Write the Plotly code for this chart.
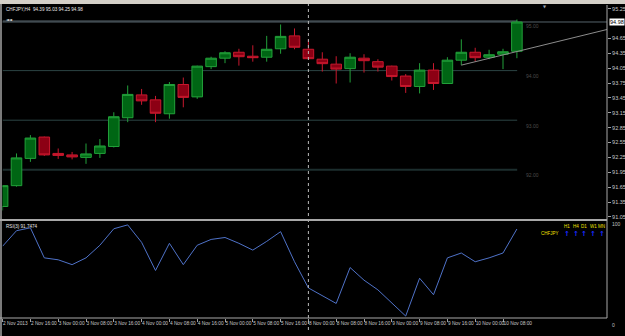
import plotly.graph_objects as go

W, H = 625, 336

# ---------------- data ----------------
opens = [91.26, 91.68, 92.23, 92.66, 92.33, 92.30, 92.25, 92.33, 92.47, 93.05,
         93.51, 93.41, 93.13, 93.72, 93.47, 94.08, 94.25, 94.37, 94.29, 94.27,
         94.44, 94.70, 94.43, 94.23, 94.13, 94.04, 94.25, 94.18, 94.09, 93.89,
         93.68, 94.01, 93.74, 94.21, 94.37, 94.27, 94.33, 94.39]
highs = [91.68, 92.33, 92.70, 92.67, 92.43, 92.36, 92.53, 92.62, 93.16, 93.70,
         93.63, 93.49, 93.77, 93.86, 94.10, 94.28, 94.39, 94.44, 94.51, 94.70,
         94.93, 94.85, 94.62, 94.37, 94.29, 94.35, 94.33, 94.23, 94.10, 93.93,
         94.15, 94.15, 94.27, 94.63, 94.46, 94.42, 94.44, 95.03]
lows = [91.18, 91.66, 92.16, 92.28, 92.22, 92.21, 92.12, 92.24, 92.45, 92.96,
        93.31, 92.96, 93.03, 93.26, 93.43, 94.03, 94.15, 94.10, 94.18, 94.18,
        94.34, 94.43, 94.23, 93.98, 93.74, 93.76, 93.96, 93.98, 93.80, 93.55,
        93.54, 93.61, 93.73, 94.11, 94.18, 94.23, 94.03, 94.25]
closes = [91.68, 92.24, 92.64, 92.30, 92.29, 92.26, 92.32, 92.48, 93.07, 93.52,
          93.39, 93.14, 93.72, 93.46, 94.09, 94.25, 94.36, 94.28, 94.26, 94.43,
          94.69, 94.47, 94.24, 94.14, 94.03, 94.27, 94.20, 94.07, 93.88, 93.68,
          94.01, 93.74, 94.21, 94.37, 94.26, 94.32, 94.38, 94.98]
rsi = [74, 90, 93, 62, 60, 55, 62, 75, 92, 96,
       78, 49, 77, 55, 75, 81, 83, 77, 70, 79,
       89, 58, 31, 23, 15, 52, 39, 29, 15, 2,
       41, 24, 62, 67, 58, 62, 67, 91.7474]
bars = list(range(len(closes)))

date_tick_bars = list(range(0, 38, 2))
date_tick_labels = ["2 Nov 2013", "2 Nov 16:00", "3 Nov 00:00", "3 Nov 08:00", "3 Nov 16:00",
                    "4 Nov 00:00", "4 Nov 08:00", "4 Nov 16:00", "5 Nov 00:00", "5 Nov 08:00",
                    "5 Nov 16:00", "8 Nov 00:00", "8 Nov 08:00", "8 Nov 16:00", "9 Nov 00:00",
                    "9 Nov 08:00", "9 Nov 16:00", "10 Nov 00:00", "10 Nov 08:00"]
# 94.95 sits under the bid-price box in the reference
price_ticks = [95.25, 94.65, 94.35, 94.05, 93.75, 93.45, 93.15, 92.85,
               92.55, 92.25, 91.95, 91.65, 91.35, 91.05]
level_values = [95.0, 94.0, 93.0, 92.0]
level_labels = ["95.00", "94.00", "93.00", "92.00"]
trend_bars = [33, 43.5]
trend_prices = [94.11, 94.83]
separator_bar = 22
title_text = "CHFJPY,H4  94.39 95.03 94.25 94.98"
rsi_label = "RSI(3) 91.7474"
tf_labels = ["H1", "H4", "D1", "W1", "MN"]

# ---------------- helpers ----------------
def px_x(p):
    return p / W

def px_y(p):
    return 1 - p / H

X_L, X_R = 2.5, 607.0
MAIN_T, MAIN_B = 5.0, 219.0
RSI_T, RSI_B = 221.0, 318.0
BAR0, BAR_STEP = 2.6, 13.9
P_REF, P_REF_Y, P_SCALE = 95.0, 21.0, 49.6

x_range = [(X_L - BAR0) / BAR_STEP, (X_R - BAR0) / BAR_STEP]
y_range = [P_REF - (MAIN_B - P_REF_Y) / P_SCALE, P_REF + (P_REF_Y - MAIN_T) / P_SCALE]

fig = go.Figure()

fig.add_trace(go.Candlestick(
    x=bars, open=opens, high=highs, low=lows, close=closes,
    xaxis="x", yaxis="y",
    increasing=dict(line=dict(color="#22a03a", width=1), fillcolor="#006614"),
    decreasing=dict(line=dict(color="#c8182e", width=1), fillcolor="#8c0014"),
    whiskerwidth=0, showlegend=False, hoverinfo="skip",
))

fig.add_trace(go.Scatter(
    x=bars, y=rsi, xaxis="x", yaxis="y2", mode="lines",
    line=dict(color="#4f72c8", width=1), showlegend=False, hoverinfo="skip",
))

fig.add_trace(go.Scatter(
    x=trend_bars, y=trend_prices, xaxis="x", yaxis="y", mode="lines",
    line=dict(color="#8c8c8c", width=1), showlegend=False, hoverinfo="skip",
))

shapes = []
shapes.append(dict(type="rect", xref="paper", yref="paper", x0=0, x1=1, y0=px_y(4), y1=1,
                   fillcolor="#d4d0c8", line=dict(width=0), layer="above"))
shapes.append(dict(type="rect", xref="paper", yref="paper", x0=0, x1=px_x(2), y0=0, y1=px_y(4),
                   fillcolor="#7a7a7a", line=dict(width=0), layer="above"))
level_colors = ["#56646c", "#2c4444", "#2c4444", "#1c2e2e"]
level_widths = [1, 1, 1, 2]
for v, c, w in zip(level_values, level_colors, level_widths):
    shapes.append(dict(type="line", xref="x", yref="y", x0=x_range[0], x1=bars[-1] + 0.02,
                       y0=v, y1=v, line=dict(color=c, width=w), layer="below"))
shapes.append(dict(type="line", xref="paper", yref="y", x0=px_x(X_L), x1=px_x(X_R),
                   y0=closes[-1], y1=closes[-1], line=dict(color="#56646c", width=1), layer="below"))
shapes.append(dict(type="line", xref="x", yref="paper", x0=separator_bar, x1=separator_bar,
                   y0=px_y(330), y1=px_y(4), line=dict(color="#b8b8b8", width=1, dash="dot")))
shapes.append(dict(type="line", xref="paper", yref="paper", x0=px_x(X_R), x1=px_x(X_R),
                   y0=px_y(RSI_B), y1=px_y(MAIN_T), line=dict(color="#a8a8a8", width=1)))
shapes.append(dict(type="rect", xref="paper", yref="paper", x0=0, x1=px_x(X_R),
                   y0=px_y(221), y1=px_y(219), fillcolor="#a8a8a8", line=dict(width=0)))
shapes.append(dict(type="line", xref="paper", yref="paper", x0=0, x1=px_x(X_R),
                   y0=px_y(RSI_B), y1=px_y(RSI_B), line=dict(color="#a8a8a8", width=1)))

ann = []
small = "Liberation Sans"
ann.append(dict(xref="paper", yref="paper", x=px_x(4), y=px_y(9), text=title_text,
                showarrow=False, xanchor="left", yanchor="middle",
                font=dict(family=small, size=4.6, color="#e8e8e8")))
ann.append(dict(xref="paper", yref="paper", x=px_x(4), y=px_y(19), text="◄◄",
                showarrow=False, xanchor="left", yanchor="middle",
                font=dict(family="DejaVu Sans", size=4, color="#e8e8e8")))
ann.append(dict(xref="paper", yref="paper", x=px_x(545), y=px_y(6), text="▼",
                showarrow=False, xanchor="center", yanchor="middle",
                font=dict(family="DejaVu Sans", size=4, color="#9aa4b4")))
for v, t in zip(level_values, level_labels):
    ann.append(dict(xref="x", yref="y", x=bars[-1] + 0.5, y=v, text=t, showarrow=False,
                    xanchor="left", yanchor="top", yshift=-0.5,
                    font=dict(family=small, size=5, color="#4c4c4c")))
ann.append(dict(xref="paper", yref="y", x=px_x(609), y=closes[-1], text=f"{closes[-1]:.2f}",
                showarrow=False, xanchor="left", yanchor="middle", bgcolor="#ffffff",
                borderpad=0, font=dict(family=small, size=5.5, color="#000000")))
ann.append(dict(xref="paper", yref="paper", x=px_x(4), y=px_y(226), text=rsi_label,
                showarrow=False, xanchor="left", yanchor="middle",
                font=dict(family=small, size=4.6, color="#e8e8e8")))
ann.append(dict(xref="paper", yref="paper", x=px_x(610), y=px_y(224), text="100",
                showarrow=False, xanchor="left", yanchor="middle",
                font=dict(family=small, size=5, color="#c0c0c0")))
ann.append(dict(xref="paper", yref="paper", x=px_x(610), y=px_y(325), text="0",
                showarrow=False, xanchor="left", yanchor="middle",
                font=dict(family=small, size=5, color="#c0c0c0")))
tf_x = [567, 575.7, 584.2, 593, 601.5]
for xp, t in zip(tf_x, tf_labels):
    ann.append(dict(xref="paper", yref="paper", x=px_x(xp), y=px_y(226.5), text=t,
                    showarrow=False, xanchor="center", yanchor="middle",
                    font=dict(family=small, size=4.5, color="#f0e000")))
    ann.append(dict(xref="paper", yref="paper", x=px_x(xp), y=px_y(233.5), text="<b>↑</b>",
                    showarrow=False, xanchor="center", yanchor="middle",
                    font=dict(family="DejaVu Sans", size=7, color="#1a2cff")))
ann.append(dict(xref="paper", yref="paper", x=px_x(561), y=px_y(233.5), text="CHFJPY",
                showarrow=False, xanchor="right", yanchor="middle",
                font=dict(family=small, size=4.5, color="#f0e000")))

fig.update_layout(
    width=W, height=H, margin=dict(l=0, r=0, t=0, b=0),
    paper_bgcolor="#000000", plot_bgcolor="#000000",
    boxgap=0.24, boxgroupgap=0,
    shapes=shapes, annotations=ann,
    xaxis=dict(domain=[px_x(X_L), px_x(X_R)], range=x_range, anchor="y2",
               rangeslider=dict(visible=False), showgrid=False, zeroline=False,
               tickmode="array", tickvals=date_tick_bars, ticktext=date_tick_labels,
               ticks="outside", ticklen=3, tickcolor="#a0a0a0", tickangle=0,
               ticklabelposition="outside right",
               tickfont=dict(family=small, size=4.8, color="#c8c8c8"), showline=False),
    yaxis=dict(domain=[px_y(MAIN_B), px_y(MAIN_T)], range=y_range, side="right",
               anchor="x", showgrid=False, zeroline=False, tickmode="array",
               tickvals=price_ticks, ticktext=[f"{v:.2f}" for v in price_ticks],
               ticks="outside", ticklen=3, tickcolor="#a0a0a0",
               tickfont=dict(family=small, size=5.5, color="#c8c8c8")),
    yaxis2=dict(domain=[px_y(RSI_B), px_y(RSI_T)], range=[0, 100], side="right",
                anchor="x", showgrid=False, zeroline=False, showticklabels=False,
                ticks=""),
)

fig.write_html("out.html")
